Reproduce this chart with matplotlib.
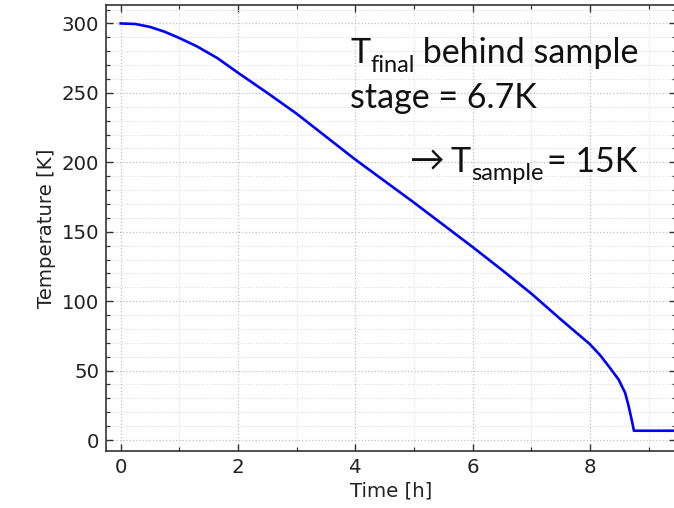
import numpy as np
from matplotlib import pyplot as plt
from matplotlib.ticker import MultipleLocator

# cooldown curve of the sample stage
time_h = [0, 0.25, 0.5, 0.75, 1.0, 1.3, 1.65, 2.0, 2.5, 3.0, 3.5, 4.0, 5.0, 6.0, 6.5,
          7.0, 7.5, 7.75, 8.0, 8.18, 8.35, 8.49, 8.6, 8.66, 8.71, 8.75, 9.5]
temp_k = [300, 299.6, 297.5, 294, 289.5, 283.5, 275, 264.5, 250, 235, 218.5, 202, 171, 139, 122.5,
          105.5, 87, 78, 69, 60.8, 51.5, 43.5, 34, 24.5, 15, 6.7, 6.7]

xticks = [0, 2, 4, 6, 8]
yticks = [0, 50, 100, 150, 200, 250, 300]

plt.rcParams['font.family'] = 'DejaVu Sans'
plt.rcParams['font.size'] = 14.2

fig = plt.figure(figsize=(6.74, 5.08), dpi=100)
ax = fig.add_axes([0.1573, 0.1122, 0.845, 0.878])

ax.plot(time_h, temp_k, color='#0000ff', lw=1.9, solid_joinstyle='round')

ax.set_xlim(-0.25, 9.46)
ax.set_ylim(-7.9, 313.3)
ax.set_xticks(xticks)
ax.set_yticks(yticks)
ax.xaxis.set_minor_locator(MultipleLocator(1))
ax.yaxis.set_minor_locator(MultipleLocator(10))

ax.grid(which='major', color='#c0c0c0', ls=':', lw=0.9)
ax.grid(which='minor', color='#d8d8d8', ls=':', lw=0.7)
ax.set_axisbelow(True)

ax.tick_params(which='both', direction='in', top=True, right=True, colors='#333333',
               labelcolor='#222222')
ax.tick_params(which='major', length=5, width=1.0, pad=5)
ax.tick_params(which='minor', length=2.6, width=0.9)
for s in ax.spines.values():
    s.set_color('#333333')
    s.set_linewidth(1.2)

ax.set_xlabel('Time [h]', color='#222222', labelpad=3)
ax.set_ylabel('Temperature [K]', color='#222222', labelpad=4)

# notes on the final temperatures, written run by run so the subscripts sit low
renderer = fig.canvas.get_renderer()
W, H = fig.bbox.width, fig.bbox.height
big, small = 24.5, 17


def write_runs(x_px, base_px, runs):
    for txt, size, drop, gap in runs:
        t = fig.text(x_px / W, 1 - (base_px + drop) / H, txt, fontsize=size,
                     family=['Lato', 'DejaVu Sans'], color='#111111', va='baseline')
        x_px = t.get_window_extent(renderer).x1 + gap


write_runs(350, 63, [('T', big, 0, 0), ('final', small, 8.5, 0),
                     (' behind sample', big, 0, 0)])
write_runs(350, 108, [('stage = 6.7K', big, 0, 0)])
write_runs(410, 172, [('\u2192', 25, -1, 6), ('T', big, 0, 0), ('sample', small, 8, 4),
                      ('= 15K', big, 0, 0)])

fig.savefig('out.png', dpi=100)
